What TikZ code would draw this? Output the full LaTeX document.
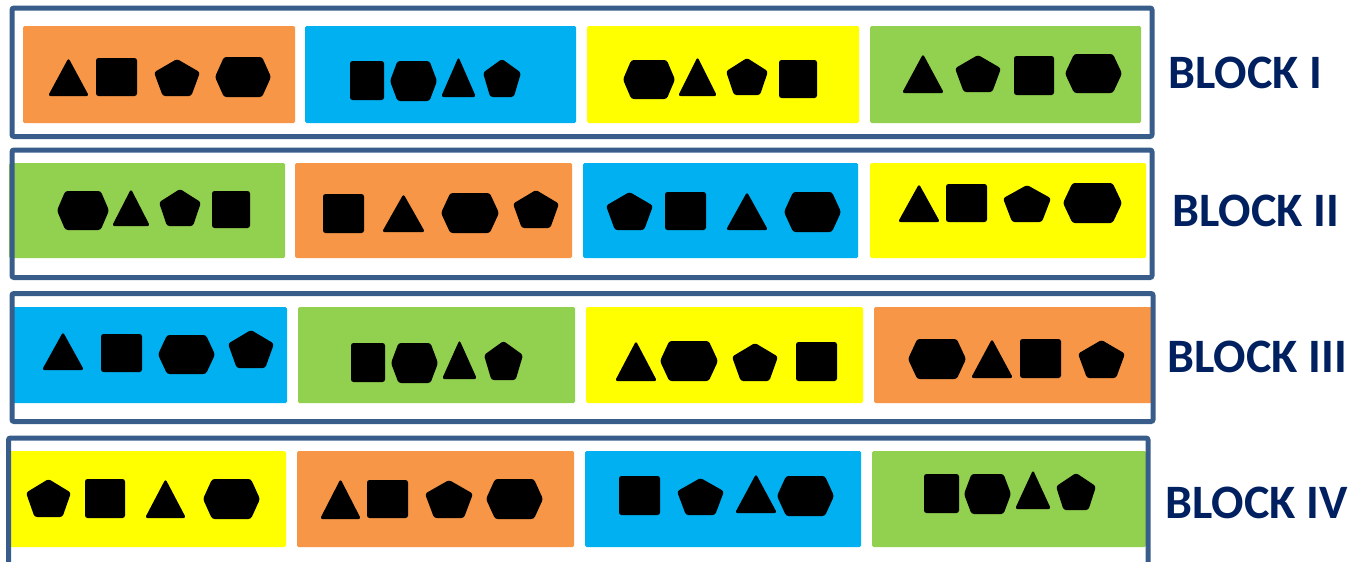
\documentclass[tikz,border=0pt]{standalone}
\usepackage{fontspec}
\setmainfont{Carlito}
\definecolor{blkFrame}{HTML}{385D8A}
\definecolor{blkText}{HTML}{002060}
\definecolor{cellOrange}{HTML}{F79646}
\definecolor{cellBlue}{HTML}{00B0F0}
\definecolor{cellYellow}{HTML}{FFFF00}
\definecolor{cellGreen}{HTML}{92D050}
\tikzset{
  blk frame/.style={draw=blkFrame, line width=5pt, rounded corners=2pt},
  blk cell/.style={rounded corners=1.5pt},
  blk label/.style={font=\fontsize{48}{56}\selectfont\bfseries, text=blkText, inner sep=0pt, anchor=west},
  glyph/.style={fill=black, rounded corners=2.5pt},
  pics/tri/.style 2 args={code={
    \fill[glyph] (0,-#2/2) -- (#1/2,#2/2) -- (-#1/2,#2/2) -- cycle;}},
  pics/sq/.style 2 args={code={
    \fill[glyph] (-#1/2,-#2/2) rectangle (#1/2,#2/2);}},
  pics/pent/.style 2 args={code={
    \fill[glyph] (0,-#2/2) -- (#1/2,-0.14*#2) -- (0.31*#1,#2/2) -- (-0.31*#1,#2/2) -- (-#1/2,-0.14*#2) -- cycle;}},
  pics/hex/.style 2 args={code={
    \fill[glyph] (-#1/2,0) -- (-0.34*#1,-#2/2) -- (0.34*#1,-#2/2) -- (#1/2,0) -- (0.34*#1,#2/2) -- (-0.34*#1,#2/2) -- cycle;}},
}

\begin{document}
\begin{tikzpicture}[x=1pt, y=-1pt]
  \useasboundingbox (0,0) rectangle (1349,562);

  % block I
  \fill[blk cell, cellOrange] (23,26) rectangle (295,123);
  \fill[blk cell, cellBlue] (305,26) rectangle (576,123);
  \fill[blk cell, cellYellow] (587,26) rectangle (859,123);
  \fill[blk cell, cellGreen] (870,26) rectangle (1141,123);
  \pic at (68.5,77) {tri={41}{38}};  \pic at (116.5,77) {sq={41}{38}};
  \pic at (177,77.5) {pent={46}{37}}; \pic at (243,77) {hex={56}{40}};
  \pic at (367,80.5) {sq={34}{39}};  \pic at (413.5,81) {hex={47}{40}};
  \pic at (458.5,77) {tri={35}{40}}; \pic at (502,78) {pent={38}{38}};
  \pic at (649,79.5) {hex={52}{39}}; \pic at (697.5,76.5) {tri={39}{39}};
  \pic at (747,76.5) {pent={42}{37}}; \pic at (798,79) {sq={38}{38}};
  \pic at (923,73.5) {tri={42}{39}}; \pic at (978,73.5) {pent={46}{37}};
  \pic at (1034,75.5) {sq={40}{39}}; \pic at (1093.5,73.5) {hex={57}{39}};

  % block II
  \fill[blk cell, cellGreen] (9,163) rectangle (285,258);
  \fill[blk cell, cellOrange] (295,163) rectangle (572,258);
  \fill[blk cell, cellBlue] (583,163) rectangle (858,258);
  \fill[blk cell, cellYellow] (870,163) rectangle (1146,258);
  \pic at (83,210.5) {hex={52}{39}}; \pic at (131,207.5) {tri={38}{37}};
  \pic at (180,207.5) {pent={42}{37}}; \pic at (231,209.5) {sq={38}{37}};
  \pic at (343.5,213.5) {sq={41}{39}}; \pic at (403.5,213) {tri={43}{38}};
  \pic at (470,213) {hex={58}{40}};  \pic at (536,209) {pent={46}{38}};
  \pic at (629.5,211) {pent={47}{38}}; \pic at (685.5,211) {sq={41}{38}};
  \pic at (747,211) {tri={42}{38}};  \pic at (812.5,212) {hex={57}{40}};
  \pic at (919,203) {tri={42}{38}};  \pic at (966.5,203) {sq={41}{38}};
  \pic at (1027,203.5) {pent={48}{37}}; \pic at (1092.5,203) {hex={59}{40}};

  % block III
  \fill[blk cell, cellBlue] (12,307) rectangle (287,403);
  \fill[blk cell, cellGreen] (298,307) rectangle (575,403);
  \fill[blk cell, cellYellow] (586,307) rectangle (863,403);
  \fill[blk cell, cellOrange] (874,307) rectangle (1152,403);
  \pic at (63,351) {tri={42}{38}};   \pic at (121.5,353) {sq={41}{38}};
  \pic at (186.5,354.5) {hex={57}{39}}; \pic at (251,349) {pent={46}{38}};
  \pic at (368,362.5) {sq={34}{39}}; \pic at (414.5,363) {hex={47}{40}};
  \pic at (459.5,359.5) {tri={35}{39}}; \pic at (503.5,360.5) {pent={39}{39}};
  \pic at (636,361) {tri={42}{40}};  \pic at (689,361) {hex={58}{40}};
  \pic at (755,362) {pent={46}{38}}; \pic at (816.5,361.5) {sq={41}{39}};
  \pic at (937,359) {hex={58}{40}};  \pic at (992,358.5) {tri={42}{39}};
  \pic at (1040.5,358.5) {sq={41}{39}}; \pic at (1101.5,359) {pent={47}{38}};

  % block IV
  \fill[blk cell, cellYellow] (9,451) rectangle (286,547);
  \fill[blk cell, cellOrange] (297,451) rectangle (574,547);
  \fill[blk cell, cellBlue] (585,451) rectangle (861,547);
  \fill[blk cell, cellGreen] (872,451) rectangle (1146,547);
  \pic at (48.5,498) {pent={45}{38}}; \pic at (105,498.5) {sq={40}{39}};
  \pic at (165.5,498.5) {tri={41}{39}}; \pic at (231.5,499) {hex={57}{40}};
  \pic at (340.5,499) {tri={41}{40}}; \pic at (387.5,499) {sq={41}{38}};
  \pic at (449,499) {pent={48}{38}}; \pic at (514.5,499) {hex={57}{40}};
  \pic at (639.5,495.5) {sq={41}{39}}; \pic at (700.5,496.5) {pent={47}{37}};
  \pic at (756,493.5) {tri={42}{39}}; \pic at (805.5,496) {hex={57}{40}};
  \pic at (941.5,493.5) {sq={35}{39}}; \pic at (987.5,494) {hex={47}{40}};
  \pic at (1033,489.5) {tri={36}{39}}; \pic at (1076,491.5) {pent={40}{37}};

  \draw[blk frame] (12,8) rectangle (1152,136.5);
  \draw[blk frame] (12,150) rectangle (1152,277.5);
  \draw[blk frame] (12,293.5) rectangle (1153,421.5);
  \draw[blk frame] (8.5,575) -- (8.5,438) -- (1148,438) -- (1148,575);

  \node[blk label] (lblI) at (1168,72.5) {BLOCK I};
  \node[blk label] (lblII) at (1172,210.5) {BLOCK II};
  \node[blk label] (lblIII) at (1167,356.5) {BLOCK III};
  \node[blk label] (lblIV) at (1165,502.5) {BLOCK IV};
\end{tikzpicture}
\end{document}
